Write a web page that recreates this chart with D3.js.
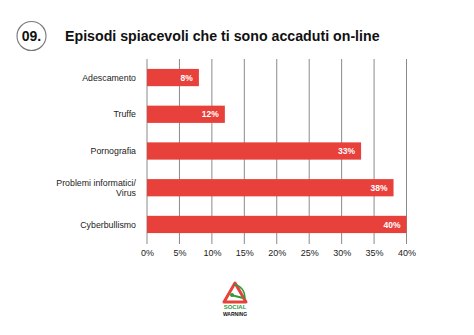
<!DOCTYPE html>
<html>
<head>
<meta charset="utf-8">
<script src="https://cdn.jsdelivr.net/npm/d3@7"></script>
<style>
  html, body { margin: 0; padding: 0; background: #fff; }
  svg { display: block; font-family: "Liberation Sans", Arial, sans-serif; }
</style>
</head>
<body>
<svg id="chart" width="474" height="335"></svg>
<script>
// Unpleasant online episodes, share of respondents (%)
const categories = ["Adescamento", "Truffe", "Pornografia", "Problemi informatici/\nVirus", "Cyberbullismo"];
const values = [8, 12, 33, 38, 40];
const tickValues = [0, 5, 10, 15, 20, 25, 30, 35, 40];
const tickLabels = ["0%", "5%", "10%", "15%", "20%", "25%", "30%", "35%", "40%"];

const svg = d3.select("#chart");
const red = "#e8403a";

// Numbered badge + title
svg.append("circle").attr("cx", 31.5).attr("cy", 36).attr("r", 14.5)
  .attr("fill", "none").attr("stroke", "#777").attr("stroke-width", 1.1);
svg.append("text").attr("x", 31.5).attr("y", 41).attr("text-anchor", "middle")
  .attr("font-size", 14).attr("font-weight", "bold").attr("fill", "#111").text("09.");
svg.append("text").attr("x", 65).attr("y", 40.8)
  .attr("font-size", 14.2).attr("font-weight", "bold").attr("fill", "#111")
  .text("Episodi spiacevoli che ti sono accaduti on-line");

// Scales
const x = d3.scaleLinear().domain([0, 40]).range([147, 406.5]);
const y = d3.scaleBand().domain(categories).range([59, 243]).paddingInner(0.53).paddingOuter(0.27);

// Vertical gridlines
svg.append("g").selectAll("line").data(tickValues).join("line")
  .attr("x1", d => x(d)).attr("x2", d => x(d))
  .attr("y1", 59).attr("y2", 244)
  .attr("stroke", "#8a8a8a").attr("stroke-width", 1);

// Tick labels
const axis = d3.axisBottom(x).tickValues(tickValues)
  .tickFormat((d, i) => tickLabels[i]).tickSize(0).tickPadding(0);
const ax = svg.append("g").attr("transform", "translate(0,250)").call(axis);
ax.select(".domain").remove();
ax.selectAll("text").attr("font-size", 9).attr("fill", "#222")
  .attr("font-family", "Liberation Sans, Arial, sans-serif");

// Bars
svg.append("g").selectAll("rect").data(values).join("rect")
  .attr("x", x(0)).attr("y", (d, i) => y(categories[i]))
  .attr("width", d => x(d) - x(0)).attr("height", y.bandwidth())
  .attr("fill", red);

// Value labels inside bar ends
svg.append("g").selectAll("text").data(values).join("text")
  .attr("x", d => x(d) - 6).attr("y", (d, i) => y(categories[i]) + y.bandwidth() / 2 + 3.2)
  .attr("text-anchor", "end").attr("font-size", 8.5).attr("font-weight", "bold")
  .attr("fill", "#fff").text(d => d + "%");

// Category labels
const cat = svg.append("g").selectAll("text").data(categories).join("text")
  .attr("x", 136).attr("text-anchor", "end").attr("font-size", 8.8).attr("fill", "#222")
  .attr("y", (d, i) => {
    const lines = d.split("\n").length;
    return y(d) + y.bandwidth() / 2 + 3.2 - (lines - 1) * 5;
  });
cat.each(function(d) {
  d3.select(this).selectAll("tspan").data(d.split("\n")).join("tspan")
    .attr("x", 136).attr("dy", (l, i) => i === 0 ? 0 : 10).text(l => l);
});

// Brand mark
const logo = svg.append("g").attr("transform", "translate(235,293)");
logo.append("path").attr("d", "M0,-10 L11,9 L-11,9 Z")
  .attr("fill", "none").attr("stroke", red).attr("stroke-width", 3).attr("stroke-linejoin", "round");
logo.append("path").attr("d", "M-1,-9 Q10,-6 10,6")
  .attr("fill", "none").attr("stroke", "#2e9b3e").attr("stroke-width", 1.4);
logo.append("path").attr("d", "M-4,2 L4,4 L8,5")
  .attr("fill", "none").attr("stroke", "#2e9b3e").attr("stroke-width", 2);
logo.append("circle").attr("cx", -3).attr("cy", 2).attr("r", 2).attr("fill", "#2e9b3e");
svg.append("text").attr("x", 235).attr("y", 309).attr("text-anchor", "middle")
  .attr("font-size", 6).attr("font-weight", "bold").attr("fill", "#2e9b3e").text("SOCIAL");
svg.append("text").attr("x", 235).attr("y", 315.5).attr("text-anchor", "middle")
  .attr("font-size", 5).attr("font-weight", "bold").attr("fill", "#111").text("WARNING");
</script>
</body>
</html>
